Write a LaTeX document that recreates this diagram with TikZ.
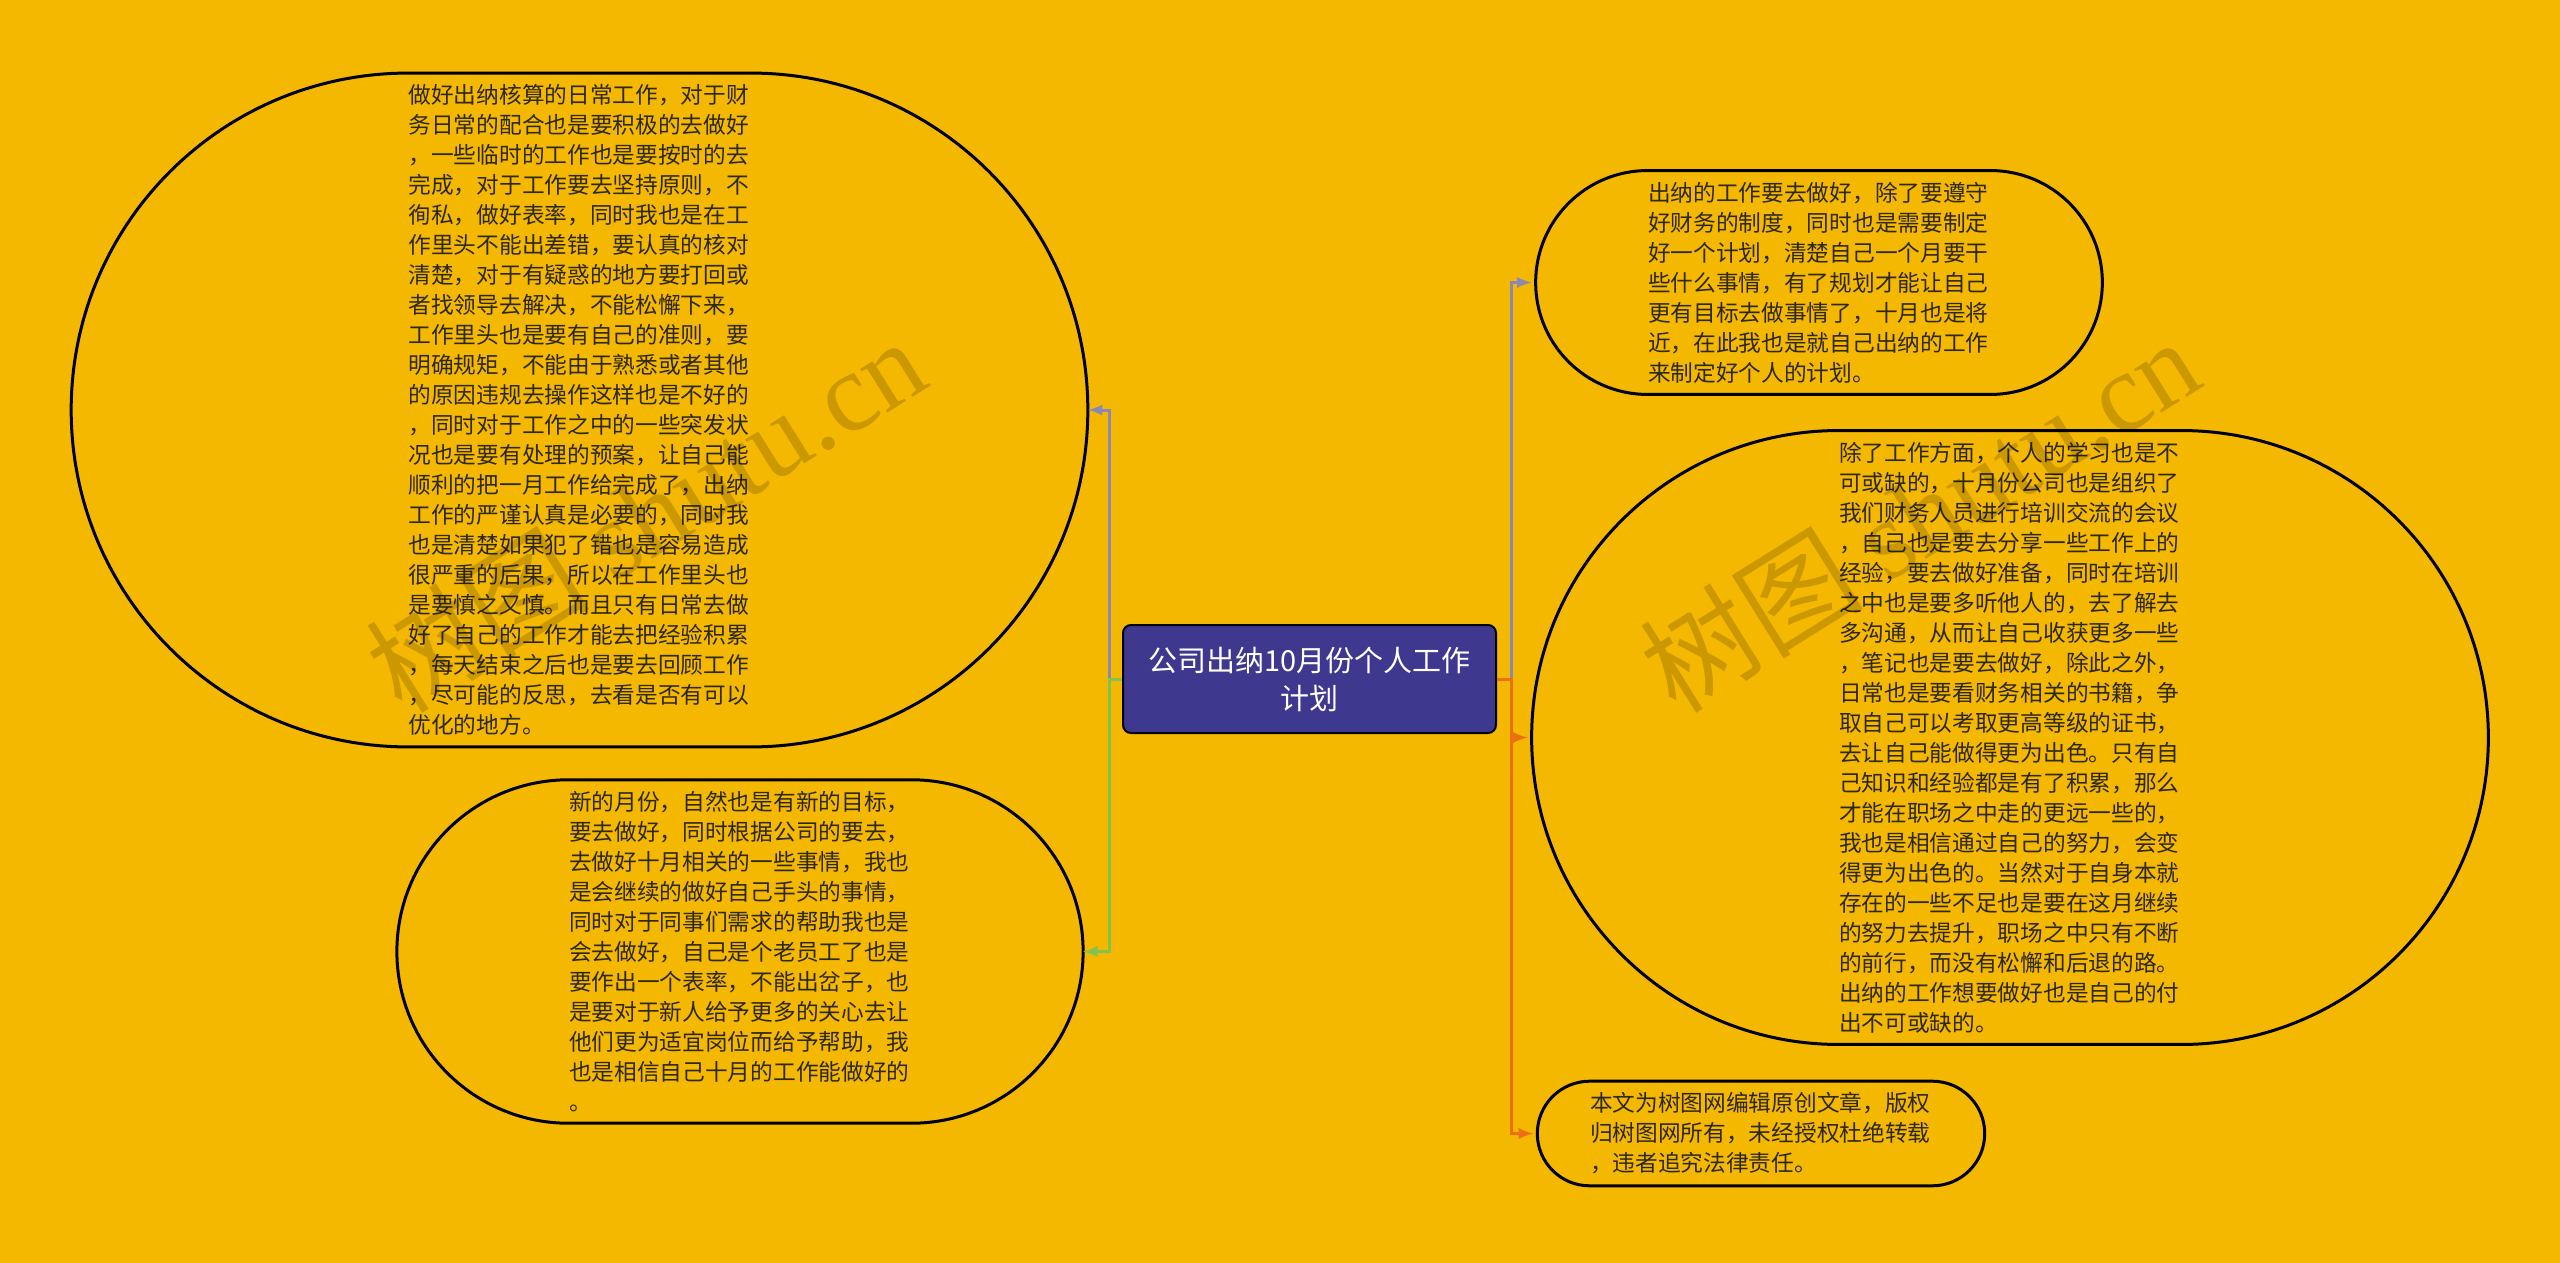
\documentclass[tikz,border=0pt]{standalone}
\usepackage{fontspec}
\setmainfont{Noto Sans CJK SC}
\newfontfamily\wmfont{Liberation Serif}
\usepackage{tikz}
\usetikzlibrary{shapes,arrows,calc}
\XeTeXlinebreaklocale "zh"
\definecolor{bgyellow}{RGB}{245,184,0}
\definecolor{topicblue}{RGB}{62,56,143}
\definecolor{linkpurple}{RGB}{140,136,182}
\definecolor{linkgreen}{RGB}{128,195,78}
\definecolor{linkorange}{RGB}{235,112,18}
\definecolor{leaftext}{RGB}{45,40,20}
\tikzstyle{topicbox} = [draw=black, line width=1pt, rectangle, rounded corners=4pt, fill=topicblue, text=white, minimum width=186.5pt, minimum height=54pt, align=center, font=\fontsize{14.5pt}{19pt}\selectfont]
\tikzstyle{leafbox} = [rectangle, text=leaftext, text width=171pt, inner xsep=0pt, inner ysep=5.5pt, align=left, font=\fontsize{11.35pt}{15pt}\selectfont]
\tikzstyle{leafline} = [draw=black, line width=1.5pt]
\tikzstyle{link} = [line width=1.5pt, -latex]
\tikzstyle{wmark} = [rotate=32, text=black, opacity=0.17, font=\fontsize{56pt}{56pt}\selectfont]
% outline with half-circle ends round a leaf node, names (<node>-e) and (<node>-w)
\newcommand{\leafoutline}[1]{%
  \draw[leafline] let \p1=(#1.north), \p2=(#1.south), \n1={(\y1-\y2)/2} in
    (#1.north west) -- (#1.north east)
    arc[start angle=90, end angle=0, radius=\n1] coordinate (#1-e)
    arc[start angle=0, end angle=-90, radius=\n1] -- (#1.south west)
    arc[start angle=270, end angle=180, radius=\n1] coordinate (#1-w)
    arc[start angle=180, end angle=90, radius=\n1] -- cycle;}

\begin{document}
\begin{tikzpicture}[x=0.5pt, y=-0.5pt]
\fill[bgyellow] (0,0) rectangle (2560,1263);
\useasboundingbox (0,0) rectangle (2560,1263);

\node [topicbox] (topic) at (1309.5,679) {公司出纳10月份个人工作\\计划};

% left side
\node [leafbox] (duty) at (579.5,410) {%
做好出纳核算的日常工作，对于财\\
务日常的配合也是要积极的去做好\\
，一些临时的工作也是要按时的去\\
完成，对于工作要去坚持原则，不\\
徇私，做好表率，同时我也是在工\\
作里头不能出差错，要认真的核对\\
清楚，对于有疑惑的地方要打回或\\
者找领导去解决，不能松懈下来，\\
工作里头也是要有自己的准则，要\\
明确规矩，不能由于熟悉或者其他\\
的原因违规去操作这样也是不好的\\
，同时对于工作之中的一些突发状\\
况也是要有处理的预案，让自己能\\
顺利的把一月工作给完成了，出纳\\
工作的严谨认真是必要的，同时我\\
也是清楚如果犯了错也是容易造成\\
很严重的后果，所以在工作里头也\\
是要慎之又慎。而且只有日常去做\\
好了自己的工作才能去把经验积累\\
，每天结束之后也是要去回顾工作\\
，尽可能的反思，去看是否有可以\\
优化的地方。};
\leafoutline{duty}

\node [leafbox] (newmonth) at (740,951.5) {%
新的月份，自然也是有新的目标，\\
要去做好，同时根据公司的要去，\\
去做好十月相关的一些事情，我也\\
是会继续的做好自己手头的事情，\\
同时对于同事们需求的帮助我也是\\
会去做好，自己是个老员工了也是\\
要作出一个表率，不能出岔子，也\\
是要对于新人给予更多的关心去让\\
他们更为适宜岗位而给予帮助，我\\
也是相信自己十月的工作能做好的\\
。};
\leafoutline{newmonth}

% right side
\node [leafbox] (plan) at (1819,282.5) {%
出纳的工作要去做好，除了要遵守\\
好财务的制度，同时也是需要制定\\
好一个计划，清楚自己一个月要干\\
些什么事情，有了规划才能让自己\\
更有目标去做事情了，十月也是将\\
近，在此我也是就自己出纳的工作\\
来制定好个人的计划。};
\leafoutline{plan}

\node [leafbox] (study) at (2010,737.5) {%
除了工作方面，个人的学习也是不\\
可或缺的，十月份公司也是组织了\\
我们财务人员进行培训交流的会议\\
，自己也是要去分享一些工作上的\\
经验，要去做好准备，同时在培训\\
之中也是要多听他人的，去了解去\\
多沟通，从而让自己收获更多一些\\
，笔记也是要去做好，除此之外，\\
日常也是要看财务相关的书籍，争\\
取自己可以考取更高等级的证书，\\
去让自己能做得更为出色。只有自\\
己知识和经验都是有了积累，那么\\
才能在职场之中走的更远一些的，\\
我也是相信通过自己的努力，会变\\
得更为出色的。当然对于自身本就\\
存在的一些不足也是要在这月继续\\
的努力去提升，职场之中只有不断\\
的前行，而没有松懈和后退的路。\\
出纳的工作想要做好也是自己的付\\
出不可或缺的。};
\leafoutline{study}

\node [leafbox] (notice) at (1761,1133.5) {%
本文为树图网编辑原创文章，版权\\
归树图网所有，未经授权杜绝转载\\
，违者追究法律责任。};
\leafoutline{notice}

% connectors
\draw [link, draw=linkpurple] (topic.west) -- ++(-13,0) |- (duty-e);
\draw [link, draw=linkgreen] (topic.west) -- ++(-13,0) |- (newmonth-e);
\draw [link, draw=linkpurple, shorten >=2pt] (topic.east) -- ++(14,0) |- (plan-w);
\draw [link, draw=linkorange, shorten >=2pt] (topic.east) -- ++(14,0) |- (study-w);
\draw [link, draw=linkorange, shorten >=2pt] (topic.east) -- ++(14,0) |- (notice-w);

% watermark
\node [wmark] (wmleft) at (645,514) {树图 {\wmfont shutu.cn}};
\node [wmark] (wmright) at (1919,514) {树图 {\wmfont shutu.cn}};
\end{tikzpicture}
\end{document}
